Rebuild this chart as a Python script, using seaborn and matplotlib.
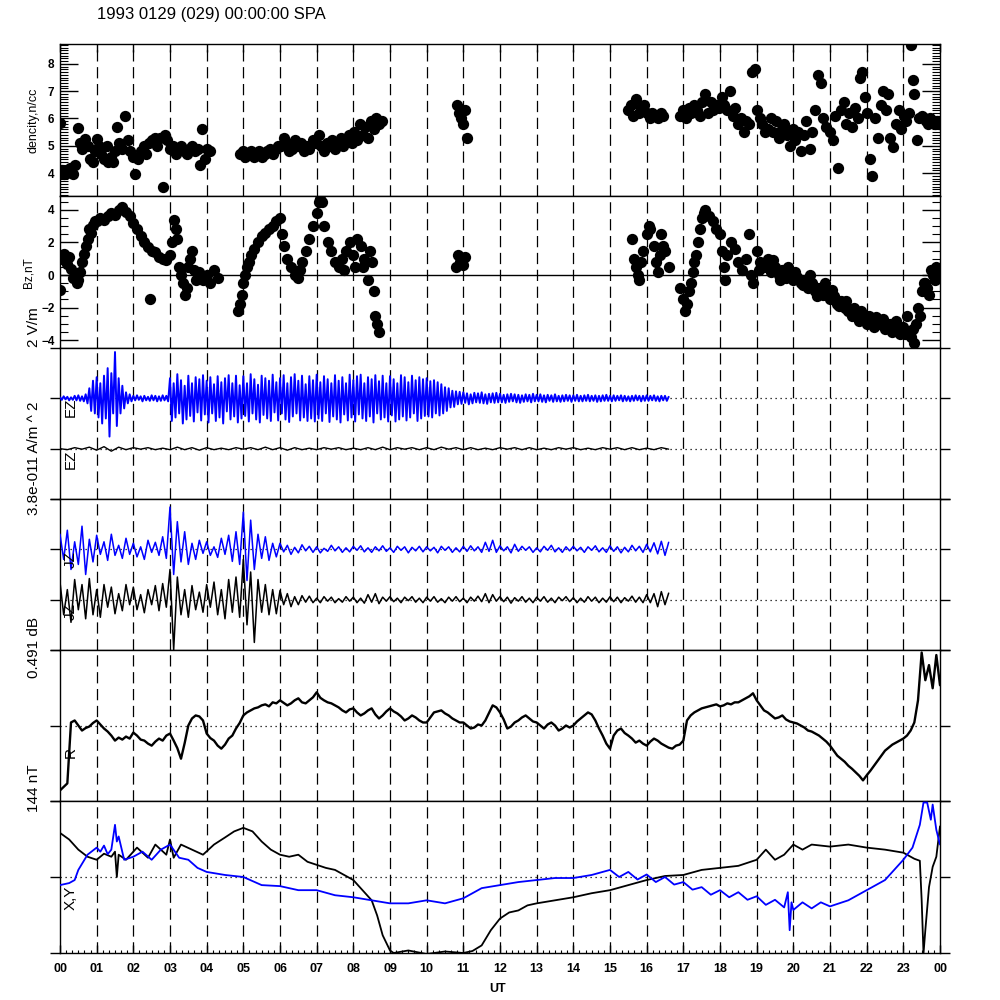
import numpy as np
import matplotlib
matplotlib.use('Agg')
import matplotlib.pyplot as plt
from matplotlib.ticker import MultipleLocator, FixedLocator
import seaborn as sns

sns.set_style('white', {'axes.edgecolor': 'black', 'text.color': 'black',
                        'xtick.color': 'black', 'ytick.color': 'black'})
plt.rcParams['font.family'] = ['Liberation Sans', 'DejaVu Sans']

TITLE = '1993 0129 (029) 00:00:00 SPA'
hour_labels = ['%02d' % (h % 24) for h in range(25)]

# ---------------- density, n/cc (dots) ----------------
dens_t = [0.0, 0.05, 0.12, 0.2, 0.28, 0.35, 0.42, 0.48, 0.55, 0.6, 0.68, 0.75, 0.82, 0.9, 0.95,
          1.0, 1.05, 1.12, 1.2, 1.28, 1.3, 1.38, 1.45, 1.5, 1.55, 1.62, 1.7, 1.77, 1.85, 1.92,
          2.0, 2.05, 2.12, 2.2, 2.28, 2.35, 2.42, 2.5, 2.58, 2.65, 2.72, 2.8, 2.85, 2.92,
          3.0, 3.08, 3.15, 3.22, 3.3, 3.38, 3.45, 3.52, 3.6, 3.68, 3.75, 3.82, 3.88, 3.95, 4.02, 4.08,
          4.9, 4.98, 5.05, 5.12, 5.2, 5.28, 5.35, 5.42, 5.5, 5.58, 5.65, 5.72, 5.8, 5.88, 5.95,
          6.02, 6.1, 6.18, 6.25, 6.33, 6.4, 6.5, 6.58, 6.65, 6.72, 6.8, 6.9, 6.98,
          7.05, 7.12, 7.2, 7.28, 7.35, 7.42, 7.5, 7.58, 7.65, 7.72, 7.8, 7.88, 7.95,
          8.02, 8.1, 8.18, 8.25, 8.32, 8.4, 8.48, 8.55, 8.62, 8.7, 8.78,
          10.82, 10.88, 10.95, 11.0, 11.05, 11.1,
          15.5, 15.56, 15.62, 15.7, 15.78, 15.85, 15.92, 16.0, 16.08, 16.15, 16.22, 16.3, 16.38, 16.45,
          16.92, 17.0, 17.08, 17.15, 17.22, 17.3, 17.38, 17.45, 17.52, 17.6, 17.68, 17.75, 17.82, 17.9, 17.98,
          18.05, 18.12, 18.2, 18.28, 18.35, 18.42, 18.5, 18.58, 18.65, 18.72, 18.8, 18.88, 18.95, 19.02, 19.08,
          19.15, 19.22, 19.3, 19.38, 19.45, 19.52, 19.6, 19.68, 19.75, 19.82, 19.9, 19.98, 20.05, 20.12, 20.2,
          20.28, 20.35, 20.45, 20.52, 20.6, 20.68, 20.75, 20.82, 20.9, 21.0, 21.08, 21.15, 21.22, 21.3,
          21.38, 21.45, 21.52, 21.6, 21.68, 21.75, 21.82, 21.88, 21.95, 22.02, 22.08, 22.15, 22.22, 22.3, 22.38,
          22.45, 22.52, 22.58, 22.65, 22.72, 22.8, 22.88, 22.95, 23.02, 23.08, 23.15, 23.2, 23.26, 23.3, 23.36, 23.42,
          23.5, 23.56, 23.62, 23.68, 23.74, 23.8, 23.86, 23.92, 23.97, 24.0]
dens_v = [5.85, 4.1, 3.95, 4.0, 4.2, 3.95, 4.3, 5.65, 5.1, 4.9, 5.25, 5.0, 4.5, 4.4, 4.8,
          5.25, 5.0, 4.7, 4.5, 5.0, 4.4, 4.6, 4.4, 4.8, 5.7, 5.1, 4.9, 6.1, 5.2, 4.8,
          4.6, 3.95, 4.5, 4.8, 5.0, 4.7, 5.1, 5.2, 5.3, 5.0, 5.3, 3.5, 5.4, 5.2,
          4.9, 5.0, 4.7, 4.9, 5.0, 4.8, 4.7, 4.9, 5.0, 4.8, 4.9, 4.3, 5.6, 4.5, 4.9, 4.8,
          4.7, 4.8, 4.6, 4.75, 4.8, 4.6, 4.7, 4.8, 4.6, 4.7, 4.8, 4.9, 4.7, 4.9, 5.0,
          5.0, 5.3, 5.1, 4.8, 4.9, 5.2, 5.0, 5.1, 4.8, 5.0, 4.9, 5.2, 5.1,
          5.4, 5.0, 4.8, 5.1, 5.0, 5.2, 4.9, 5.1, 5.3, 5.0, 5.2, 5.4, 5.1,
          5.5, 5.2, 5.8, 5.4, 5.7, 5.3, 5.9, 5.6, 6.0, 5.8, 5.9,
          6.5, 6.2, 6.0, 5.8, 6.3, 5.3,
          6.3, 6.5, 6.1, 6.7, 6.2, 6.4, 6.5, 6.2, 6.0, 6.2, 6.1, 6.0, 6.2, 6.1,
          6.1, 6.3, 6.0, 6.4, 6.2, 6.5, 6.3, 6.1, 6.6, 6.9, 6.2, 6.6, 6.3, 6.5, 6.4,
          6.8, 6.5, 6.3, 7.0, 6.1, 6.4, 5.8, 6.0, 5.5, 5.9, 5.8, 7.7, 7.8, 6.3, 6.0,
          5.8, 5.5, 5.6, 6.0, 5.5, 5.9, 5.3, 5.6, 5.8, 5.4, 5.0, 5.6, 5.2, 5.5, 4.8,
          5.4, 5.9, 4.9, 5.5, 6.3, 7.6, 7.3, 6.0, 5.7, 5.5, 5.2, 6.1, 4.2, 6.3,
          6.6, 5.8, 6.2, 5.7, 6.4, 6.0, 7.5, 7.7, 6.8, 6.2, 4.5, 3.9, 6.0, 5.3, 6.5,
          7.0, 6.3, 6.9, 5.3, 4.95, 5.8, 6.3, 5.6, 6.1, 5.9, 6.2, 8.7, 7.4, 6.9, 5.2, 6.0,
          6.1, 6.0, 5.9, 5.8, 6.0, 5.9, 5.8, 5.9, 5.8, 5.85]

# ---------------- Bz, nT (dots) ----------------
bz_t = [0.0, 0.0, 0.05, 0.1, 0.15, 0.2, 0.25, 0.3, 0.35, 0.4, 0.45, 0.5, 0.55, 0.6, 0.65, 0.7, 0.75, 0.8, 0.85, 0.9, 0.95,
        1.0, 1.1, 1.2, 1.3, 1.4, 1.5, 1.6, 1.7, 1.8, 1.9,
        2.0, 2.1, 2.2, 2.3, 2.4, 2.45, 2.5, 2.6, 2.7, 2.8, 2.9,
        3.0, 3.05, 3.1, 3.15, 3.2, 3.25, 3.3, 3.35, 3.4, 3.45, 3.5, 3.55, 3.6, 3.65, 3.7, 3.8, 3.9, 4.0, 4.1, 4.2, 4.3,
        4.85, 4.9, 4.95, 5.0, 5.05, 5.1, 5.15, 5.2, 5.3, 5.4, 5.5, 5.6, 5.7, 5.8, 5.9, 6.0, 6.05, 6.1, 6.2, 6.3,
        6.4, 6.5, 6.55, 6.6, 6.7, 6.8, 6.9,
        7.0, 7.05, 7.1, 7.15, 7.2, 7.3, 7.4, 7.5, 7.6, 7.7, 7.75, 7.8, 7.9, 8.0, 8.05, 8.1, 8.2, 8.25, 8.3,
        8.4, 8.45, 8.5, 8.55, 8.6, 8.65, 8.7,
        10.8, 10.85, 10.9, 10.95, 11.0, 11.05,
        15.6, 15.65, 15.7, 15.75, 15.8, 15.85, 15.9, 16.0, 16.05, 16.1, 16.2, 16.25, 16.3, 16.35, 16.4, 16.45, 16.5, 16.6,
        16.9, 17.0, 17.05, 17.1, 17.15, 17.2, 17.25, 17.3, 17.35, 17.4, 17.45, 17.5, 17.55, 17.6, 17.7, 17.8, 17.9,
        18.0, 18.05, 18.1, 18.15, 18.2, 18.3, 18.4, 18.5, 18.6, 18.7, 18.8, 18.85, 18.9,
        19.0, 19.1, 19.2, 19.3, 19.4, 19.5, 19.6, 19.7, 19.8, 19.9,
        20.0, 20.1, 20.2, 20.3, 20.4, 20.5, 20.6, 20.7, 20.8, 20.9,
        21.0, 21.1, 21.2, 21.3, 21.4, 21.5, 21.6, 21.7, 21.8, 21.9,
        22.0, 22.1, 22.2, 22.3, 22.4, 22.5, 22.6, 22.7, 22.8, 22.9,
        23.0, 23.1, 23.2, 23.3, 23.4, 23.5, 23.6, 23.7, 23.8, 23.9, 24.0,
        19.05, 19.25, 19.45, 19.65, 19.85, 20.05, 20.25, 20.45, 20.65, 20.85,
        21.05, 21.25, 21.45, 21.65, 21.85, 22.05, 22.25, 22.45, 22.65, 22.85,
        23.05, 23.25, 23.35, 23.45, 23.55, 23.65, 23.75, 23.85, 23.95]
bz_v = [-0.9, 1.0, 1.2, 1.3, 1.0, 0.7, 1.1, 0.4, -0.2, 0.0, -0.5, -0.3, 0.2, 0.8, 1.3, 1.8, 2.2, 2.8, 2.6, 3.1, 3.3,
        3.3, 3.5, 3.4, 3.6, 3.8, 3.7, 4.0, 4.2, 3.9, 3.6,
        3.2, 2.8, 2.4, 2.0, 1.7, -1.5, 1.5, 1.4, 1.1, 1.0, 0.9,
        1.2, 2.0, 3.4, 2.8, 2.2, 0.5, 0.0, -0.5, -1.2, -0.8, 0.5, 1.0, 1.5, 0.3, -0.3, 0.2, -0.3, 0.0, -0.5, 0.3, -0.2,
        -2.2, -1.8, -1.2, -0.5, 0.0, 0.5, 0.8, 1.2, 1.6, 2.0, 2.4, 2.6, 2.8, 3.0, 3.3, 3.5, 2.5, 1.8, 1.0, 0.5,
        0.0, -0.2, 0.3, 0.8, 1.5, 2.2, 3.0,
        3.8, 4.5, 4.7, 4.5, 3.0, 2.0, 1.5, 0.8, 0.5, 1.0, 0.3, 1.5, 2.0, 1.2, 0.5, 2.2, 1.8, 0.5, 1.0,
        -0.3, 1.5, 0.8, -1.0, -2.5, -3.0, -3.5,
        0.5, 1.2, 0.8, 1.0, 0.6, 1.1,
        2.2, 1.0, 0.5, 0.0, -0.3, 0.8, 1.5, 2.5, 3.0, 2.8, 1.8, 0.8, 0.2, 1.2, 2.5, 1.8, 1.5, 0.5,
        -0.8, -1.5, -2.2, -1.8, -1.0, -0.5, 0.2, 0.8, 1.2, 2.0, 2.8, 3.5, 3.8, 4.0, 3.6, 3.3, 2.8,
        2.5, 1.5, 0.5, -0.3, 1.2, 2.0, 1.6, 0.8, 0.3, 1.0, 2.5, 0.0, -0.5,
        1.5, 0.8, 0.5, 1.0, 0.2, 0.5, 0.0, 0.3, -0.2, 0.2,
        -0.3, -0.1, -0.5, -0.3, -0.8, -0.5, -1.0, -0.8, -1.2, -1.0,
        -1.5, -1.3, -1.8, -1.6, -2.0, -2.2, -2.5, -2.3, -2.8, -2.6,
        -3.0, -2.8, -3.2, -3.0, -2.9, -3.3, -3.1, -3.5, -2.8, -3.6,
        -3.2, -2.5, -3.8, -4.2, -2.0, -1.0, -0.5, -1.2, 0.0, 0.5, -0.2,
        0.3, 0.6, 0.9, -0.3, 0.5, 0.2, -0.6, 0.0, -1.3, -0.5,
        -0.9, -1.9, -1.6, -2.0, -2.2, -2.5, -2.6, -2.7, -3.0, -3.2,
        -3.6, -3.3, -3.0, -2.5, -0.5, -0.8, 0.3, -0.3, 0.2]

# ---------------- E (V/m): blue 3-min samples, black 12-min samples ----------------
t_e = np.linspace(0, 16.6, 333)
t_slow = np.linspace(0, 16.6, 84)
t_fast = np.linspace(0, 16.6, 167)

e_blue = [0.02, -0.03, 0.04, -0.02, 0.03, -0.04, 0.02, -0.03, 0.05, -0.04, 0.06, -0.05, 0.04, -0.06, 0.08, -0.1, 0.2, -0.25, 0.35, -0.3,
          0.42, -0.38, 0.3, -0.5, 0.45, -0.4, 0.6, -0.76, 0.5, -0.3, 0.92, -0.55, 0.4, -0.3, 0.25, -0.2, 0.12, -0.1, 0.08, -0.06,
          0.05, -0.04, 0.06, -0.03, 0.04, -0.06, 0.05, -0.04, 0.03, -0.05, 0.06, -0.04, 0.05, -0.06, 0.04, -0.05, 0.06, -0.04, 0.05, -0.06,
          0.4, -0.45, 0.3, -0.38, 0.48, -0.3, 0.36, -0.5, 0.25, -0.42, 0.45, -0.35, 0.3, -0.46, 0.42, -0.28, 0.38, -0.44, 0.46, -0.32,
          0.35, -0.48, 0.42, -0.3, 0.28, -0.45, 0.44, -0.38, 0.32, -0.5, 0.4, -0.26, 0.46, -0.42, 0.3, -0.36, 0.45, -0.48, 0.26, -0.4,
          0.44, -0.35, 0.3, -0.46, 0.48, -0.3, 0.38, -0.42, 0.27, -0.48, 0.45, -0.33, 0.4, -0.4, 0.35, -0.45, 0.47, -0.28, 0.32, -0.44,
          0.4, -0.3, 0.46, -0.42, 0.3, -0.47, 0.42, -0.36, 0.48, -0.3, 0.35, -0.44, 0.45, -0.38, 0.28, -0.45, 0.44, -0.4, 0.36, -0.46,
          0.47, -0.4, 0.32, -0.45, 0.44, -0.3, 0.38, -0.47, 0.3, -0.36, 0.46, -0.42, 0.35, -0.48, 0.42, -0.32, 0.3, -0.44, 0.47, -0.38,
          0.36, -0.46, 0.44, -0.32, 0.47, -0.4, 0.3, -0.45, 0.42, -0.36, 0.38, -0.48, 0.46, -0.3, 0.34, -0.42, 0.45, -0.38, 0.3, -0.46,
          0.44, -0.34, 0.38, -0.46, 0.3, -0.42, 0.46, -0.36, 0.42, -0.44, 0.32, -0.38, 0.45, -0.3, 0.36, -0.45, 0.42, -0.4, 0.38, -0.35,
          0.4, -0.36, 0.34, -0.38, 0.36, -0.3, 0.32, -0.34, 0.28, -0.3, 0.22, -0.25, 0.2, -0.18, 0.15, -0.17, 0.14, -0.12, 0.13, -0.11,
          0.12, -0.09, 0.1, -0.12, 0.08, -0.1, 0.11, -0.08, 0.1, -0.09, 0.12, -0.1, 0.08, -0.11, 0.09, -0.08, 0.1, -0.09, 0.11, -0.08,
          0.09, -0.08, 0.07, -0.09, 0.08, -0.07, 0.09, -0.06, 0.08, -0.08, 0.07, -0.09, 0.06, -0.07, 0.08, -0.06, 0.07, -0.08, 0.09, -0.06,
          0.07, -0.06, 0.08, -0.07, 0.06, -0.08, 0.07, -0.05, 0.06, -0.07, 0.08, -0.06, 0.05, -0.07, 0.06, -0.06, 0.07, -0.05, 0.06, -0.07,
          0.06, -0.05, 0.07, -0.06, 0.05, -0.06, 0.06, -0.05, 0.07, -0.06, 0.05, -0.05, 0.06, -0.07, 0.05, -0.06, 0.06, -0.05, 0.07, -0.05,
          0.05, -0.06, 0.06, -0.05, 0.05, -0.04, 0.06, -0.06, 0.05, -0.05, 0.04, -0.06, 0.05, -0.05, 0.06, -0.04, 0.05, -0.06, 0.05, -0.05,
          0.06, -0.05, 0.05, -0.04, 0.06, -0.05, 0.04, -0.06, 0.05, -0.04, 0.05, -0.05, 0.03]
e_black = [0.0, -0.02, 0.02, -0.01, 0.03, -0.03, 0.04, -0.05, 0.03, -0.02,
           0.02, -0.01, 0.02, -0.02, 0.01, -0.02, 0.03, -0.02, 0.02, -0.03,
           0.02, -0.02, 0.01, -0.02, 0.02, -0.01, 0.02, -0.02, 0.03, -0.02,
           0.02, -0.03, 0.02, -0.02, 0.01, -0.02, 0.02, -0.01, 0.02, -0.02,
           0.01, -0.02, 0.02, -0.02, 0.03, -0.02, 0.02, -0.01, 0.02, -0.02,
           0.02, -0.02, 0.03, -0.01, 0.02, -0.02, 0.02, -0.02, 0.01, -0.02,
           0.02, -0.01, 0.02, -0.02, 0.02, -0.02, 0.01, -0.02, 0.02, -0.01,
           0.02, -0.02, 0.01, -0.02, 0.02, -0.01, 0.02, -0.02, 0.02, -0.02,
           0.01, -0.02, 0.02, -0.01]

# ---------------- J traces, 6-min samples ----------------
j_blue = [0.3, -0.2, 0.38, -0.4, 0.15, -0.3, 0.46, -0.5, 0.2, -0.25,
          0.28, -0.1, 0.15, -0.22, 0.3, -0.12, 0.08, -0.18, 0.22, -0.1,
          0.12, -0.15, 0.05, -0.2, 0.18, -0.06, 0.14, -0.12, 0.25, -0.18,
          0.84, -0.5, 0.55, -0.25, 0.35, -0.3, 0.12, -0.2, 0.18, -0.08,
          0.15, -0.12, 0.05, -0.16, 0.22, -0.1, 0.28, -0.24, 0.35, -0.3,
          0.74, -0.62, 0.58, -0.4, 0.3, -0.18, 0.25, -0.22, 0.12, -0.15,
          0.12, -0.05, 0.08, -0.1, 0.04, -0.07, 0.09, -0.03, 0.06, -0.06,
          0.05, -0.07, 0.02, -0.04, 0.08, -0.03, 0.05, -0.06, 0.03, -0.05,
          0.06, -0.02, 0.07, -0.05, 0.03, -0.06, 0.05, -0.03, 0.07, -0.04,
          0.03, -0.06, 0.06, -0.02, 0.05, -0.07, 0.04, -0.03, 0.06, -0.05,
          0.05, -0.03, 0.04, -0.07, 0.06, -0.02, 0.05, -0.06, 0.03, -0.05,
          0.06, -0.04, 0.07, -0.03, 0.05, -0.06, 0.14, -0.04, 0.18, -0.06,
          0.07, -0.03, 0.05, -0.07, 0.1, -0.04, 0.06, -0.02, 0.05, -0.06,
          0.03, -0.05, 0.06, -0.02, 0.08, -0.05, 0.03, -0.06, 0.05, -0.03,
          0.06, -0.03, 0.04, -0.06, 0.05, -0.02, 0.07, -0.05, 0.03, -0.06,
          0.07, -0.04, 0.05, -0.07, 0.04, -0.05, 0.08, -0.03, 0.06, -0.06,
          0.1, -0.05, 0.13, -0.09, 0.16, -0.12, 0.14]
j_black = [0.35, -0.3, 0.2, -0.45, 0.4, -0.2, 0.3, -0.38, 0.42, -0.3,
           0.2, -0.35, 0.3, -0.15, 0.25, -0.28, 0.12, -0.22, 0.3, -0.1,
           0.25, -0.2, 0.1, -0.26, 0.2, -0.1, 0.28, -0.22, 0.32, -0.15,
           0.6, -1.0, 0.45, -0.3, 0.2, -0.35, 0.28, -0.2, 0.15, -0.25,
           0.3, -0.15, 0.35, -0.3, 0.2, -0.38, 0.4, -0.25, 0.45, -0.35,
           0.8, -0.5, 0.55, -0.85, 0.4, -0.25, 0.3, -0.3, 0.2, -0.28,
           0.18, -0.1, 0.12, -0.14, 0.06, -0.1, 0.08, -0.05, 0.07, -0.06,
           0.03, -0.06, 0.06, -0.03, 0.05, -0.06, 0.02, -0.05, 0.06, -0.03,
           0.05, -0.06, 0.03, -0.07, 0.1, -0.05, 0.12, -0.08, 0.05, -0.03,
           0.06, -0.04, 0.03, -0.06, 0.05, -0.02, 0.06, -0.05, 0.03, -0.06,
           0.05, -0.03, 0.06, -0.05, 0.02, -0.06, 0.05, -0.03, 0.06, -0.04,
           0.03, -0.06, 0.05, -0.03, 0.07, -0.04, 0.12, -0.06, 0.1, -0.03,
           0.06, -0.04, 0.05, -0.07, 0.04, -0.03, 0.06, -0.05, 0.03, -0.06,
           0.05, -0.03, 0.06, -0.05, 0.03, -0.06, 0.05, -0.02, 0.06, -0.04,
           0.04, -0.06, 0.03, -0.05, 0.06, -0.03, 0.05, -0.06, 0.03, -0.05,
           0.06, -0.04, 0.05, -0.06, 0.04, -0.03, 0.07, -0.05, 0.05, -0.06,
           0.1, -0.06, 0.12, -0.14, 0.16, -0.1, 0.13]

# ---------------- R trace, 6-min samples over the whole day ----------------
t_r = np.linspace(0, 24, 241)
r_v = [-1.29, -1.22, -1.15, 0.06, 0.1, 0.0, -0.1, -0.05, -0.02, 0.05,
       0.1, 0.02, -0.06, -0.12, -0.2, -0.3, -0.24, -0.28, -0.22, -0.26,
       -0.14, -0.2, -0.28, -0.3, -0.36, -0.4, -0.32, -0.26, -0.3, -0.2,
       -0.16, -0.3, -0.45, -0.66, -0.35, 0.0, 0.14, 0.2, 0.18, 0.1,
       -0.16, -0.25, -0.3, -0.4, -0.46, -0.38, -0.26, -0.2, -0.06, 0.05,
       0.2, 0.26, 0.3, 0.34, 0.36, 0.4, 0.42, 0.38, 0.46, 0.44,
       0.5, 0.45, 0.4, 0.44, 0.5, 0.54, 0.46, 0.44, 0.5, 0.56,
       0.66, 0.55, 0.5, 0.46, 0.44, 0.4, 0.36, 0.3, 0.26, 0.32,
       0.34, 0.26, 0.2, 0.24, 0.3, 0.34, 0.22, 0.14, 0.2, 0.28,
       0.34, 0.28, 0.24, 0.18, 0.1, 0.14, 0.2, 0.16, 0.1, 0.06,
       0.06, 0.16, 0.26, 0.28, 0.3, 0.24, 0.2, 0.14, 0.1, 0.06,
       0.06, 0.0, -0.06, -0.04, 0.02, 0.0, 0.1, 0.25, 0.4, 0.36,
       0.26, 0.12, -0.06, -0.02, 0.06, 0.1, 0.16, 0.2, 0.14, 0.08,
       0.06, 0.0, -0.06, 0.02, 0.06, 0.0, -0.1, -0.06, 0.0, -0.04,
       0.0, 0.08, 0.14, 0.2, 0.26, 0.22, 0.1, -0.06, -0.2, -0.36,
       -0.46, -0.2, -0.1, -0.06, -0.15, -0.2, -0.26, -0.34, -0.3, -0.36,
       -0.4, -0.32, -0.26, -0.3, -0.36, -0.4, -0.44, -0.46, -0.4, -0.38,
       -0.3, 0.1, 0.2, 0.26, 0.3, 0.34, 0.36, 0.38, 0.4, 0.42,
       0.38, 0.4, 0.44, 0.42, 0.46, 0.46, 0.5, 0.54, 0.58, 0.64,
       0.5, 0.4, 0.3, 0.26, 0.2, 0.14, 0.16, 0.2, 0.12, 0.08,
       0.06, 0.04, 0.0, -0.04, -0.1, -0.12, -0.16, -0.2, -0.26, -0.32,
       -0.4, -0.5, -0.6, -0.66, -0.72, -0.8, -0.86, -0.93, -1.0, -1.09,
       -0.99, -0.9, -0.8, -0.7, -0.6, -0.5, -0.44, -0.38, -0.34, -0.3,
       -0.26, -0.2, -0.1, 0.06, 0.5, 1.45, 0.9, 1.2, 0.74, 1.4,
       0.8]

# ---------------- X (black) and Y (blue) traces ----------------
x_t = [0.0, 0.25, 0.5, 0.75, 1.0, 1.2, 1.4, 1.5, 1.55, 1.6,
       1.8, 2.1, 2.4, 2.6, 2.9, 3.0, 3.1, 3.3, 3.6, 3.9,
       4.2, 4.5, 4.75, 5.0, 5.25, 5.5, 5.75, 6.0, 6.25, 6.5,
       6.75, 7.0, 7.25, 7.5, 7.75, 8.0, 8.25, 8.5, 8.65, 8.8,
       9.0, 9.1, 9.5, 10.0, 10.5, 11.0, 11.25, 11.5, 11.75, 12.0,
       12.25, 12.5, 12.75, 13.0, 13.5, 14.0, 14.5, 15.0, 15.5, 16.0,
       16.5, 17.0, 17.5, 18.0, 18.5, 19.0, 19.25, 19.5, 19.75, 20.0,
       20.25, 20.5, 21.0, 21.5, 22.0, 22.5, 23.0, 23.3, 23.45, 23.5,
       23.55, 23.6, 23.7, 23.8, 23.9, 24.0]
x_v = [0.87, 0.74, 0.54, 0.4, 0.34, 0.46, 0.4, 0.5, 0.0, 0.44,
       0.34, 0.58, 0.38, 0.64, 0.44, 0.74, 0.38, 0.64, 0.54, 0.44,
       0.64, 0.78, 0.9, 0.97, 0.9, 0.7, 0.54, 0.44, 0.4, 0.44,
       0.3, 0.24, 0.18, 0.14, 0.04, -0.06, -0.26, -0.46, -0.76, -1.15,
       -1.45, -1.5, -1.45, -1.52, -1.47, -1.5, -1.46, -1.35, -1.05, -0.82,
       -0.7, -0.66, -0.56, -0.52, -0.46, -0.4, -0.32, -0.26, -0.16, -0.06,
       0.02, 0.04, 0.14, 0.18, 0.22, 0.34, 0.54, 0.34, 0.44, 0.64,
       0.54, 0.64, 0.6, 0.64, 0.58, 0.54, 0.48, 0.36, 0.32, -0.46,
       -1.51, -1.05, -0.2, 0.2, 0.4, 1.0]
y_t = [0.0, 0.25, 0.4, 0.5, 0.75, 1.0, 1.1, 1.2, 1.3, 1.4,
       1.5, 1.55, 1.6, 1.75, 2.0, 2.25, 2.5, 2.75, 3.0, 3.25,
       3.5, 3.75, 4.0, 4.5, 5.0, 5.5, 6.0, 6.5, 7.0, 7.5,
       8.0, 8.5, 9.0, 9.5, 10.0, 10.5, 11.0, 11.5, 12.0, 12.5,
       13.0, 13.5, 14.0, 14.5, 15.0, 15.25, 15.5, 15.75, 16.0, 16.25,
       16.5, 16.75, 17.0, 17.25, 17.5, 17.75, 18.0, 18.25, 18.5, 18.75,
       19.0, 19.25, 19.5, 19.75, 19.85, 19.9, 19.95, 20.0, 20.25, 20.5,
       20.75, 21.0, 21.5, 22.0, 22.5, 22.75, 23.0, 23.25, 23.45, 23.55,
       23.65, 23.75, 23.8, 23.9, 24.0]
y_v = [-0.16, -0.12, -0.06, 0.14, 0.44, 0.58, 0.5, 0.62, 0.45, 0.54,
       1.03, 0.7, 0.8, 0.34, 0.4, 0.5, 0.34, 0.54, 0.64, 0.38,
       0.34, 0.18, 0.1, 0.04, 0.0, -0.16, -0.18, -0.26, -0.26, -0.36,
       -0.4, -0.46, -0.52, -0.52, -0.46, -0.52, -0.42, -0.22, -0.16, -0.1,
       -0.06, -0.02, -0.02, 0.04, 0.14, 0.0, 0.1, -0.05, 0.05, -0.1,
       0.0, -0.15, -0.1, -0.25, -0.2, -0.35, -0.26, -0.4, -0.3, -0.45,
       -0.38, -0.55, -0.45, -0.6, -0.3, -1.05, -0.5, -0.65, -0.5, -0.62,
       -0.5, -0.58, -0.46, -0.26, -0.06, 0.14, 0.34, 0.58, 1.03, 1.47,
       1.47, 1.13, 1.43, 0.93, 0.64]

BLUE = '#0000ff'


def hour_grid(ax):
    for h in range(1, 24):
        ax.axvline(h, color='black', lw=0.9, ls=(0, (9, 4.5)), zorder=0.5)


def dotted(ax, y):
    ax.axhline(y, color='black', lw=0.9, ls=(0, (1, 3)), zorder=0.6)


def trace_axes(ax, levels):
    ax.set_xlim(0, 24)
    ax.set_ylim(-1.5, 1.5)
    ax.yaxis.set_major_locator(FixedLocator([-1.5] + levels + [1.5]))
    ax.tick_params(axis='y', which='major', direction='out', length=7, width=1,
                   left=True, right=True, labelleft=False)
    ax.tick_params(axis='x', which='both', bottom=False, top=False, labelbottom=False)
    for lv in levels:
        dotted(ax, lv)
    hour_grid(ax)


def dot_axes(ax, lo, hi, major, minor):
    ax.set_xlim(0, 24)
    ax.set_ylim(lo, hi)
    ax.yaxis.set_major_locator(MultipleLocator(major))
    ax.yaxis.set_minor_locator(MultipleLocator(minor))
    ax.tick_params(axis='y', which='major', direction='in', length=13, width=1,
                   left=True, right=True, labelsize=8.5, pad=4)
    ax.tick_params(axis='y', which='minor', direction='in', length=6, width=0.8,
                   left=True, right=True)
    for lab in ax.get_yticklabels():
        lab.set_fontweight('bold')
    hour_grid(ax)


def label_in(fig, y, text):
    fig.text(0.071, y, text, rotation=90, ha='center', va='center', fontsize=11)


fig = plt.figure(figsize=(10, 10), dpi=100)
L, W = 0.060, 0.880
bottoms = [0.804, 0.652, 0.501, 0.350, 0.199, 0.047]
heights = [0.152, 0.152, 0.151, 0.151, 0.151, 0.152]
axes = [fig.add_axes([L, b, W, h]) for b, h in zip(bottoms, heights)]
for ax in axes:
    for s in ax.spines.values():
        s.set_linewidth(1.0)
        s.set_color('black')
    ax.set_facecolor('white')

# panel 1: density
ax1 = axes[0]
sns.scatterplot(x=dens_t, y=dens_v, ax=ax1, color='black', s=66, linewidth=0, zorder=3)
dot_axes(ax1, 3.16, 8.73, 1, 0.1)
ax1.xaxis.set_major_locator(MultipleLocator(1))
ax1.tick_params(axis='x', which='major', direction='in', length=6, width=1,
                top=True, bottom=False, labelbottom=False, labeltop=False)

# panel 2: Bz
ax2 = axes[1]
sns.scatterplot(x=bz_t, y=bz_v, ax=ax2, color='black', s=66, linewidth=0, zorder=3)
ax2.axhline(0, color='black', lw=1.0, zorder=1)
dot_axes(ax2, -4.49, 4.86, 2, 0.5)
ax2.tick_params(axis='x', which='both', bottom=False, top=False, labelbottom=False)

# panel 3: E
ax3 = axes[2]
trace_axes(ax3, [-0.5, 0.5])
sns.lineplot(x=t_e, y=0.5 + np.array(e_blue), ax=ax3, color=BLUE, lw=1.4,
             estimator=None, sort=False, zorder=3)
sns.lineplot(x=t_slow, y=-0.5 + np.array(e_black), ax=ax3, color='black', lw=1.0,
             estimator=None, sort=False, zorder=3)

# panel 4: J
ax4 = axes[3]
trace_axes(ax4, [-0.5, 0.5])
sns.lineplot(x=t_fast, y=0.5 + np.array(j_blue), ax=ax4, color=BLUE, lw=1.1,
             estimator=None, sort=False, zorder=3)
sns.lineplot(x=t_fast, y=-0.5 + np.array(j_black), ax=ax4, color='black', lw=1.1,
             estimator=None, sort=False, zorder=3)

# panel 5: R
ax5 = axes[4]
trace_axes(ax5, [0.0])
sns.lineplot(x=t_r, y=r_v, ax=ax5, color='black', lw=1.7, estimator=None, sort=False, zorder=3)

# panel 6: X, Y
ax6 = axes[5]
trace_axes(ax6, [0.0])
sns.lineplot(x=x_t, y=x_v, ax=ax6, color='black', lw=1.3, estimator=None, sort=False, zorder=3)
sns.lineplot(x=y_t, y=y_v, ax=ax6, color=BLUE, lw=1.3, estimator=None, sort=False, zorder=4)
ax6.set_xticks(range(25))
ax6.set_xticklabels(hour_labels)
ax6.xaxis.set_minor_locator(MultipleLocator(1 / 6))
ax6.tick_params(axis='x', which='major', direction='in', length=6, width=1,
                bottom=True, labelbottom=True, labelsize=9, pad=7)
ax6.tick_params(axis='x', which='minor', direction='in', length=2.5, width=0.8, bottom=True)
for lab in ax6.get_xticklabels():
    lab.set_fontweight('bold')

for ax in axes:
    ax.set_xlim(0, 24)
    ax.set_xlabel('')
    ax.set_ylabel('')

# texts
fig.text(0.097, 0.985, TITLE, ha='left', va='center', fontsize=12)
fig.text(0.498, 0.011, 'UT', ha='center', va='center', fontsize=9, fontweight='bold')
fig.text(0.033, 0.880, 'dencity,n/cc', rotation=90, ha='center', va='center', fontsize=9)
fig.text(0.029, 0.727, 'Bz,nT', rotation=90, ha='center', va='center', fontsize=8.5)
fig.text(0.034, 0.673, '2 V/m', rotation=90, ha='center', va='center', fontsize=11)
fig.text(0.034, 0.542, '3.8e-011 A/m ^ 2', rotation=90, ha='center', va='center', fontsize=11)
fig.text(0.034, 0.352, '0.491 dB', rotation=90, ha='center', va='center', fontsize=11)
fig.text(0.034, 0.212, '144 nT', rotation=90, ha='center', va='center', fontsize=11)
label_in(fig, 0.593, 'EZ')
label_in(fig, 0.541, 'EZ')
label_in(fig, 0.440, 'JZ')
label_in(fig, 0.388, 'JZ')
label_in(fig, 0.248, 'R')
label_in(fig, 0.102, 'X,Y')

fig.savefig('out.png', dpi=100)
